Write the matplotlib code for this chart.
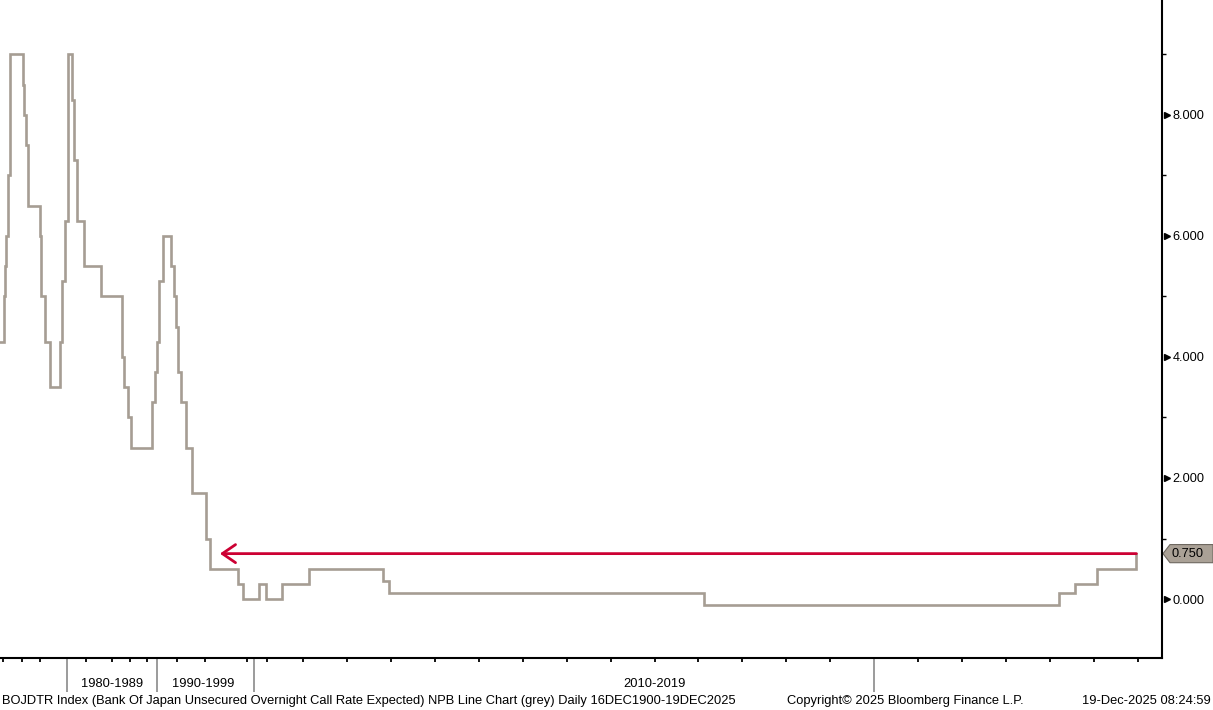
import numpy as np
import pandas as pd
import matplotlib
matplotlib.use("Agg")
import matplotlib.pyplot as plt
from matplotlib.ticker import FixedLocator, NullFormatter
from matplotlib.transforms import blended_transform_factory
from matplotlib.patches import Polygon

# ---------------- data ----------------
change_dates = [
    "1972-06-24", "1973-04-02", "1973-05-30", "1973-07-02", "1973-08-29", "1973-12-22",
    "1975-04-16", "1975-06-07", "1975-08-13", "1975-10-24", "1977-03-12", "1977-04-19",
    "1977-09-05", "1978-03-16", "1979-04-17", "1979-07-24", "1979-11-02", "1980-02-19",
    "1980-03-19", "1980-08-20", "1980-11-06", "1981-03-18", "1981-12-11", "1983-10-22",
    "1986-01-30", "1986-03-10", "1986-04-21", "1986-11-01", "1987-02-23", "1989-05-31",
    "1989-10-11", "1989-12-25", "1990-03-20", "1990-08-30", "1991-07-01", "1991-11-14",
    "1991-12-30", "1992-04-01", "1992-07-27", "1993-02-04", "1993-09-21", "1995-04-14",
    "1995-09-08", "1998-09-09", "1999-02-12", "2000-08-11", "2001-03-19", "2006-07-14",
    "2007-02-21", "2008-10-31", "2008-12-19", "2016-02-16", "2024-03-19", "2024-07-31",
    "2025-01-24", "2025-12-19",
]
rate_values = [
    4.25, 5.0, 5.5, 6.0, 7.0, 9.0,
    8.5, 8.0, 7.5, 6.5, 6.0, 5.0,
    4.25, 3.5, 4.25, 5.25, 6.25, 7.25,
    9.0, 8.25, 7.25, 6.25, 5.5, 5.0,
    4.5, 4.0, 3.5, 3.0, 2.5, 3.25,
    3.75, 4.25, 5.25, 6.0, 5.5, 5.0,
    4.5, 3.75, 3.25, 2.5, 1.75, 1.0,
    0.5, 0.25, 0.0, 0.25, 0.0, 0.25,
    0.5, 0.3, 0.1, -0.1, 0.1, 0.25,
    0.5, 0.75,
]
last_value = 0.75
last_date = "2025-12-19"
arrow_tip_date = "1996-10-01"

decade_labels = ["1980-1989", "1990-1999", "2010-2019"]
decade_label_years = [1985.0, 1995.0, 2015.0]
major_tick_years = [1980.0, 1990.0, 2000.0, 2020.0]
minor_tick_years = [1973.2, 1975.2, 1977.15, 1982.15, 1985.0, 1987.0, 1988.9,
                    1992.15, 1995.16, 1999.44, 2001.5] + \
                   [float(y) for y in range(2007, 2020)] + \
                   [float(y) for y in range(2021, 2027)]
y_major = [0, 2, 4, 6, 8]
y_minor = [1, 3, 5, 7, 9]

footer_left = ("BOJDTR Index (Bank Of Japan Unsecured Overnight Call Rate Expected) "
               "NPB Line Chart (grey) Daily 16DEC1900-19DEC2025")
footer_mid = "Copyright\u00a9 2025 Bloomberg Finance L.P."
footer_right = "19-Dec-2025 08:24:59"

# Bloomberg plots by observation, so the time axis is piecewise (density of observations)
knot_years = [1972.0, 1972.85, 1980.0, 1990.0, 1995.69, 1998.69, 1999.12, 2000.0,
              2000.61, 2001.21, 2006.54, 2007.14, 2010.0, 2020.0, 2027.0]
knot_pos = [-7.9, 0.0, 66.5, 157.0, 210.0, 238.0, 243.0, 254.0,
            259.5, 266.0, 282.0, 309.0, 435.0, 874.0, 1182.0]


def to_year(s):
    d = pd.to_datetime(s)
    return d.year + (d.dayofyear - 1) / (366 if d.is_leap_year else 365)


def fwd(x):
    return np.interp(x, knot_years, knot_pos)


def inv(p):
    return np.interp(p, knot_pos, knot_years)


xs = [to_year(d) for d in change_dates] + [to_year(last_date)]
ys = rate_values + [rate_values[-1]]

# ---------------- figure ----------------
plt.rcParams['font.family'] = ['Liberation Sans', 'DejaVu Sans']
W, H = 1213, 710
fig = plt.figure(figsize=(W / 100, H / 100), dpi=100)
ax = fig.add_axes([0.0, 52 / H, 1162 / W, 658 / H])

LINE = '#a69d93'
RED = '#cc0033'

ax.set_xscale('function', functions=(fwd, inv))
ax.plot(xs, ys, drawstyle='steps-post', color=LINE, lw=1.9, solid_joinstyle='miter')

ax.set_xlim(inv(0.0), inv(1162.0))
ax.set_ylim(-0.975, 9.9)

ax.annotate('', xy=(to_year(arrow_tip_date), last_value),
            xytext=(to_year(last_date), last_value),
            arrowprops=dict(arrowstyle='->,head_length=0.95,head_width=0.65',
                            color=RED, lw=2.0, shrinkA=0, shrinkB=0,
                            mutation_scale=10))

for s in ['left', 'top']:
    ax.spines[s].set_visible(False)
ax.spines['right'].set_linewidth(1.5)
ax.spines['bottom'].set_linewidth(1.5)

# x ticks
ax.xaxis.set_major_locator(FixedLocator(major_tick_years))
ax.xaxis.set_minor_locator(FixedLocator(minor_tick_years))
ax.xaxis.set_major_formatter(NullFormatter())
ax.xaxis.set_minor_formatter(NullFormatter())
ax.tick_params(axis='x', which='major', length=24.5, width=1.2, color='#8a8a8a', direction='out')
ax.tick_params(axis='x', which='minor', length=3.0, width=1.3, color='black', direction='out')

# y ticks on right
ax.yaxis.tick_right()
ax.yaxis.set_major_locator(FixedLocator(y_major))
ax.yaxis.set_minor_locator(FixedLocator(y_minor))
ax.set_yticklabels([f"{v:.3f}" for v in y_major])
ax.tick_params(axis='y', which='major', length=0, pad=7.5, labelsize=9.2, labelcolor='black')
ax.tick_params(axis='y', which='minor', length=3.0, width=1.0, color='black', direction='out')

bt = blended_transform_factory(ax.transAxes, ax.transData)
ax.plot([1.0 + 4.5 / 1162] * len(y_major), y_major, linestyle='none', marker='>',
        markersize=4.5, color='black', transform=bt, clip_on=False)

# last value tag
tw = 1.0 / 1162
hh = 0.15
tag = Polygon([(1.0 + 1 * tw, last_value), (1.0 + 8 * tw, last_value + hh),
               (1.0 + 51 * tw, last_value + hh), (1.0 + 51 * tw, last_value - hh),
               (1.0 + 8 * tw, last_value - hh)], closed=True,
              facecolor='#aaa196', edgecolor='#6e6860', lw=0.8,
              transform=bt, clip_on=False)
ax.add_patch(tag)
ax.text(1.0 + 10 * tw, last_value, f"{last_value:.3f}", transform=bt, ha='left',
        va='center', fontsize=9.2, color='black', clip_on=False)

# decade labels
bx = blended_transform_factory(ax.transData, fig.transFigure)
for lab, yr in zip(decade_labels, decade_label_years):
    ax.text(yr, 1 - 684 / H, lab, transform=bx, ha='center', va='center',
            fontsize=9.3, color='black')

fig.text(2 / W, 1 - 701 / H, footer_left, ha='left', va='center', fontsize=9.3)
fig.text(787 / W, 1 - 701 / H, footer_mid, ha='left', va='center', fontsize=9.3)
fig.text(1211 / W, 1 - 701 / H, footer_right, ha='right', va='center', fontsize=9.3)

fig.savefig('out.png', dpi=100)
